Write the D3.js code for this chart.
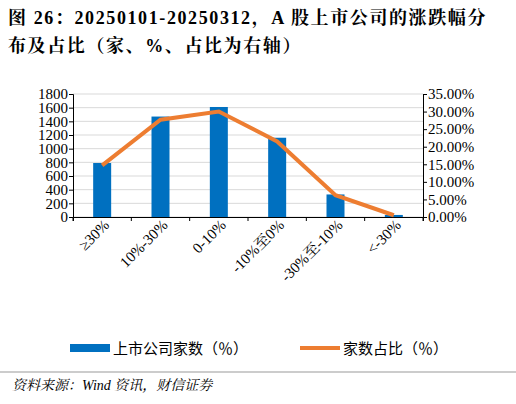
<!DOCTYPE html><html><head><meta charset="utf-8"><script src="https://d3js.org/d3.v7.min.js"></script>
<style>body{margin:0;background:#fff}</style></head><body><div id="c"></div><script>
const categories=["≥30%","10%-30%","0-10%","-10%至0%","-30%至-10%","<-30%"];
const counts=[790,1470,1610,1160,330,30];
const shares=[14.7,27.7,30.0,21.5,6.2,0.5];
const leftTicks=[0,200,400,600,800,1000,1200,1400,1600,1800];
const rightTicks=[0,5,10,15,20,25,30,35];
const W=516,H=404;
const svg=d3.select("#c").append("svg").attr("width",W).attr("height",H);
const serif="'Liberation Serif','Noto Serif CJK SC','Noto Sans CJK SC',serif";
svg.append("text").attr("x",8).attr("y",24).attr("font-family",serif).attr("font-weight","bold").attr("font-size",18).attr("letter-spacing",1.6).text("图 26：20250101-20250312，A 股上市公司的涨跌幅分");
svg.append("text").attr("x",8).attr("y",52).attr("font-family",serif).attr("font-weight","bold").attr("font-size",18).attr("letter-spacing",1.6).text("布及占比（家、%、占比为右轴）");
const x=d3.scaleBand().domain(categories).range([73,423]);
const y=d3.scaleLinear().domain([0,1800]).range([217,94]);
const y2=d3.scaleLinear().domain([0,35]).range([217,94]);
const g=svg.append("g");
leftTicks.forEach(t=>g.append("line").attr("x1",73).attr("x2",423).attr("y1",y(t)).attr("y2",y(t)).attr("stroke","#d9d9d9"));
g.selectAll("rect").data(counts).join("rect").attr("x",(d,i)=>x(categories[i])+x.bandwidth()/2-9).attr("width",18)
 .attr("y",d=>y(d)).attr("height",d=>217-y(d)).attr("fill","#0070c0");
const ax=svg.append("g").attr("transform","translate(73,0)").call(d3.axisLeft(y).tickValues(leftTicks).tickSize(4).tickFormat(d3.format("d")));
const ax2=svg.append("g").attr("transform","translate(423,0)").call(d3.axisRight(y2).tickValues(rightTicks).tickSize(4).tickFormat(d=>d.toFixed(2)+"%"));
const axb=svg.append("g").attr("transform","translate(0,217)").call(d3.axisBottom(x).tickSize(4).tickFormat(""));
[ax,ax2,axb].forEach(a=>{a.selectAll("path,line").attr("stroke","#000");a.selectAll("text").attr("font-family",serif).attr("font-size",15).attr("fill","#000")});
ax.selectAll("text").attr("dx",2);ax2.selectAll("text").attr("dx",-2);
axb.selectAll(".tick").remove();
categories.concat([null]).forEach((c,i)=>axb.append("line").attr("x1",73+i*x.step()).attr("x2",73+i*x.step()).attr("y1",0).attr("y2",4).attr("stroke","#000"));
const line=d3.line().x((d,i)=>x(categories[i])+x.bandwidth()/2).y(d=>y2(d));
svg.append("path").datum(shares).attr("d",line).attr("fill","none").attr("stroke","#ed7d31").attr("stroke-width",4);
categories.forEach((c,i)=>svg.append("text").attr("transform",`translate(${x(c)+x.bandwidth()/2+8},226) rotate(-45)`)
 .attr("text-anchor","end").attr("font-family",serif).attr("font-size",15).text(c));
svg.append("rect").attr("x",70).attr("y",344).attr("width",40).attr("height",8).attr("fill","#0070c0");
svg.append("text").attr("x",113).attr("y",354).attr("font-family","'Noto Sans CJK SC',sans-serif").attr("font-size",15).text("上市公司家数（％）");
svg.append("line").attr("x1",300).attr("x2",340).attr("y1",348).attr("y2",348).attr("stroke","#ed7d31").attr("stroke-width",4);
svg.append("text").attr("x",343).attr("y",354).attr("font-family","'Noto Sans CJK SC',sans-serif").attr("font-size",15).text("家数占比（％）");
svg.append("line").attr("x1",0).attr("x2",W).attr("y1",372).attr("y2",372).attr("stroke","#999");
svg.append("text").attr("x",12).attr("y",390).attr("font-family",serif).attr("font-style","italic").attr("font-size",14).text("资料来源：Wind 资讯，财信证券");
</script></body></html>
